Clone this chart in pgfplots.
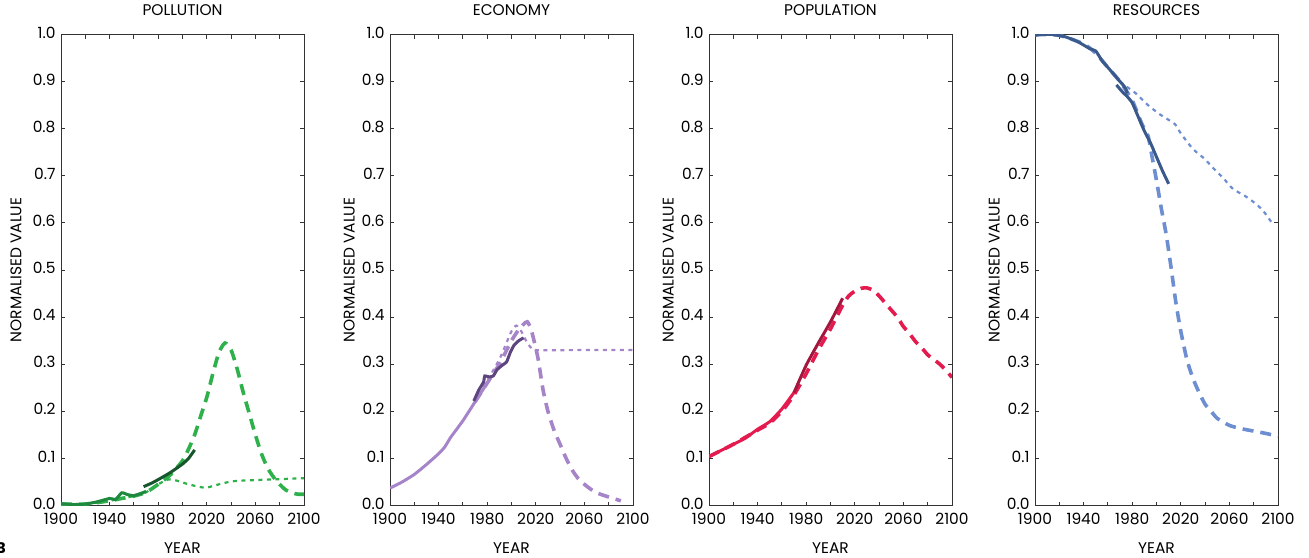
\documentclass[border=0pt]{standalone}
\usepackage{fontspec}
\setmainfont{Poppins}
\usepackage{pgfplots}
\pgfplotsset{compat=1.18}
\definecolor{pgL}{HTML}{2EB04B}
\definecolor{pgM}{HTML}{1F8A3F}
\definecolor{pgD}{HTML}{17552D}
\definecolor{ecL}{HTML}{A584C9}
\definecolor{ecD}{HTML}{5E4580}
\definecolor{ppL}{HTML}{E31B4F}
\definecolor{ppD}{HTML}{A3173F}
\definecolor{rsL}{HTML}{6D8ED0}
\definecolor{rsD}{HTML}{3A5A8C}
\newcommand{\fs}{\fontsize{15.5}{18}\selectfont}
\pgfplotsset{
  panel/.style={
    scale only axis, width=243bp, height=471bp,
    xmin=1900, xmax=2100, ymin=0, ymax=1,
    xtick={1900,1940,1980,2020,2060,2100},
    minor xtick={1920,1960,2000,2040,2080},
    ytick={0,0.1,0.2,0.3,0.4,0.5,0.6,0.7,0.8,0.9,1.0},
    tick align=inside,
    major tick length=4bp, minor tick length=4bp,
    every tick/.style={black!80, line width=0.9bp},
    axis line style={black!80, line width=1bp},
    /pgf/number format/assume math mode=true,
    xticklabel style={/pgf/number format/1000 sep={}, font=\fs, yshift=-4bp},
    yticklabel style={/pgf/number format/.cd, fixed, fixed zerofill, precision=1, /tikz/.cd, font=\fs, xshift=-2bp, yshift=2bp},
    title style={at={(axis description cs:0.5,1)}, anchor=base, yshift=13bp, font=\fs},
    xlabel={YEAR},
    xlabel style={at={(axis description cs:0.5,0)}, anchor=base, yshift=-47.5bp, font=\fs},
    ylabel={NORMALISED VALUE},
    ylabel style={anchor=base, font=\fs},
  },
  dsh/.style={line width=3.6bp, dash pattern=on 11bp off 7bp, smooth, tension=0.4},
  dtt/.style={line width=2.2bp, dash pattern=on 4bp off 4.5bp, smooth, tension=0.4},
  sol/.style={line width=3bp, smooth, tension=0.3},
}
\begin{document}
\begin{tikzpicture}
\useasboundingbox (0,0) rectangle (1309bp,-558bp);
\node[anchor=base west, font=\fs\bfseries] at (-8bp,-553bp) {B};
% ---------- POLLUTION
\begin{axis}[panel, at={(61bp,-505.5bp)}, anchor=south west, title={POLLUTION},
  ylabel style={at={(axis description cs:-0.163,0.5)}}]
\addplot[pgL, dtt] coordinates {(1900,0.002)(1920,0.003)(1940,0.01)(1950,0.015)(1960,0.02)(1970,0.028)(1980,0.045)(1988,0.055)(1995,0.053)(2005,0.045)(2015,0.039)(2020,0.038)(2030,0.045)(2040,0.051)(2050,0.053)(2060,0.054)(2070,0.055)(2080,0.056)(2090,0.057)(2100,0.058)};
\addplot[pgL, dsh] coordinates {(1900,0.003)(1920,0.003)(1940,0.01)(1950,0.015)(1960,0.02)(1970,0.028)(1980,0.045)(1990,0.065)(2000,0.095)(2005,0.12)(2010,0.15)(2015,0.19)(2020,0.23)(2025,0.28)(2030,0.325)(2035,0.345)(2040,0.33)(2045,0.29)(2050,0.24)(2055,0.195)(2060,0.15)(2065,0.11)(2070,0.08)(2075,0.06)(2080,0.045)(2085,0.033)(2090,0.027)(2095,0.024)(2100,0.024)};
\addplot[pgM, sol] coordinates {(1900,0.004)(1905,0.003)(1910,0.002)(1920,0.003)(1930,0.008)(1940,0.015)(1945,0.013)(1950,0.027)(1955,0.023)(1960,0.021)(1965,0.025)(1970,0.03)};
\addplot[pgD, sol] coordinates {(1968,0.04)(1975,0.048)(1980,0.055)(1990,0.07)(2000,0.088)(2005,0.1)(2010,0.118)};
\end{axis}
% ---------- ECONOMY
\begin{axis}[panel, at={(390bp,-505.5bp)}, anchor=south west, title={ECONOMY},
  ylabel style={at={(axis description cs:-0.146,0.5)}}]
\addplot[ecL, dtt] coordinates {(1970,0.22)(1980,0.265)(1990,0.31)(1995,0.34)(2000,0.37)(2004,0.382)(2008,0.37)(2012,0.35)(2016,0.335)(2020,0.33)(2060,0.33)(2100,0.33)};
\addplot[ecL, dsh] coordinates {(1970,0.22)(1980,0.26)(1990,0.30)(1995,0.325)(2000,0.35)(2005,0.37)(2010,0.385)(2013,0.39)(2016,0.375)(2019,0.345)(2022,0.31)(2026,0.245)(2030,0.2)(2035,0.16)(2040,0.13)(2045,0.1)(2050,0.075)(2055,0.057)(2060,0.045)(2065,0.035)(2070,0.027)(2080,0.018)(2090,0.01)};
\addplot[ecL, sol] coordinates {(1900,0.037)(1910,0.05)(1920,0.066)(1930,0.087)(1940,0.11)(1945,0.124)(1950,0.145)(1960,0.18)(1970,0.22)(1975,0.24)(1980,0.26)};
\addplot[ecD, sol, tension=0.2] coordinates {(1969,0.222)(1973,0.245)(1977,0.262)(1978,0.275)(1982,0.273)(1985,0.275)(1988,0.288)(1992,0.297)(1996,0.305)(1999,0.325)(2002,0.34)(2006,0.35)(2010,0.356)};
\end{axis}
% ---------- POPULATION
\begin{axis}[panel, at={(709bp,-505.5bp)}, anchor=south west, title={POPULATION},
  ylabel style={at={(axis description cs:-0.146,0.5)}}]
\addplot[ppL, dsh] coordinates {(1900,0.104)(1920,0.13)(1940,0.16)(1950,0.175)(1960,0.2)(1970,0.235)(1980,0.28)(1990,0.33)(2000,0.375)(2005,0.4)(2010,0.425)(2015,0.445)(2020,0.455)(2025,0.461)(2030,0.462)(2035,0.457)(2040,0.445)(2045,0.43)(2050,0.415)(2055,0.4)(2060,0.38)(2065,0.365)(2070,0.348)(2075,0.335)(2080,0.32)(2085,0.31)(2090,0.3)(2095,0.287)(2100,0.272)};
\addplot[ppL, sol] coordinates {(1900,0.104)(1910,0.117)(1920,0.13)(1930,0.143)(1940,0.162)(1950,0.178)(1960,0.205)(1970,0.24)};
\addplot[ppD, sol] coordinates {(1970,0.24)(1980,0.298)(1990,0.345)(2000,0.39)(2010,0.44)};
\end{axis}
% ---------- RESOURCES
\begin{axis}[panel, at={(1035bp,-505.5bp)}, anchor=south west, title={RESOURCES},
  ylabel style={at={(axis description cs:-0.146,0.5)}}]
\addplot[rsL, dtt] coordinates {(1970,0.9)(1975,0.89)(1983,0.875)(1993,0.85)(2003,0.83)(2015,0.81)(2020,0.79)(2030,0.757)(2040,0.735)(2046,0.718)(2055,0.695)(2063,0.672)(2073,0.657)(2082,0.64)(2088,0.625)(2095,0.6)};
\addplot[rsL, dsh] coordinates {(1900,1.0)(1920,0.998)(1940,0.98)(1950,0.96)(1960,0.93)(1970,0.9)(1980,0.86)(1988,0.81)(1993,0.785)(1996,0.745)(2000,0.69)(2004,0.63)(2008,0.575)(2012,0.505)(2016,0.43)(2020,0.37)(2025,0.31)(2030,0.27)(2035,0.24)(2040,0.215)(2045,0.2)(2050,0.185)(2060,0.17)(2070,0.163)(2080,0.158)(2090,0.153)(2100,0.147)};
\addplot[rsD, sol] coordinates {(1900,0.998)(1905,1.0)(1915,1.0)(1925,0.995)(1935,0.985)(1945,0.97)(1950,0.965)(1955,0.945)(1960,0.93)(1965,0.915)(1970,0.9)(1974,0.888)(1976,0.875)};
\addplot[rsD, sol] coordinates {(1967,0.893)(1972,0.878)(1976,0.868)(1980,0.855)(1985,0.825)(1990,0.795)(1995,0.77)(2000,0.74)(2005,0.71)(2010,0.683)};
\end{axis}
\end{tikzpicture}
\end{document}
